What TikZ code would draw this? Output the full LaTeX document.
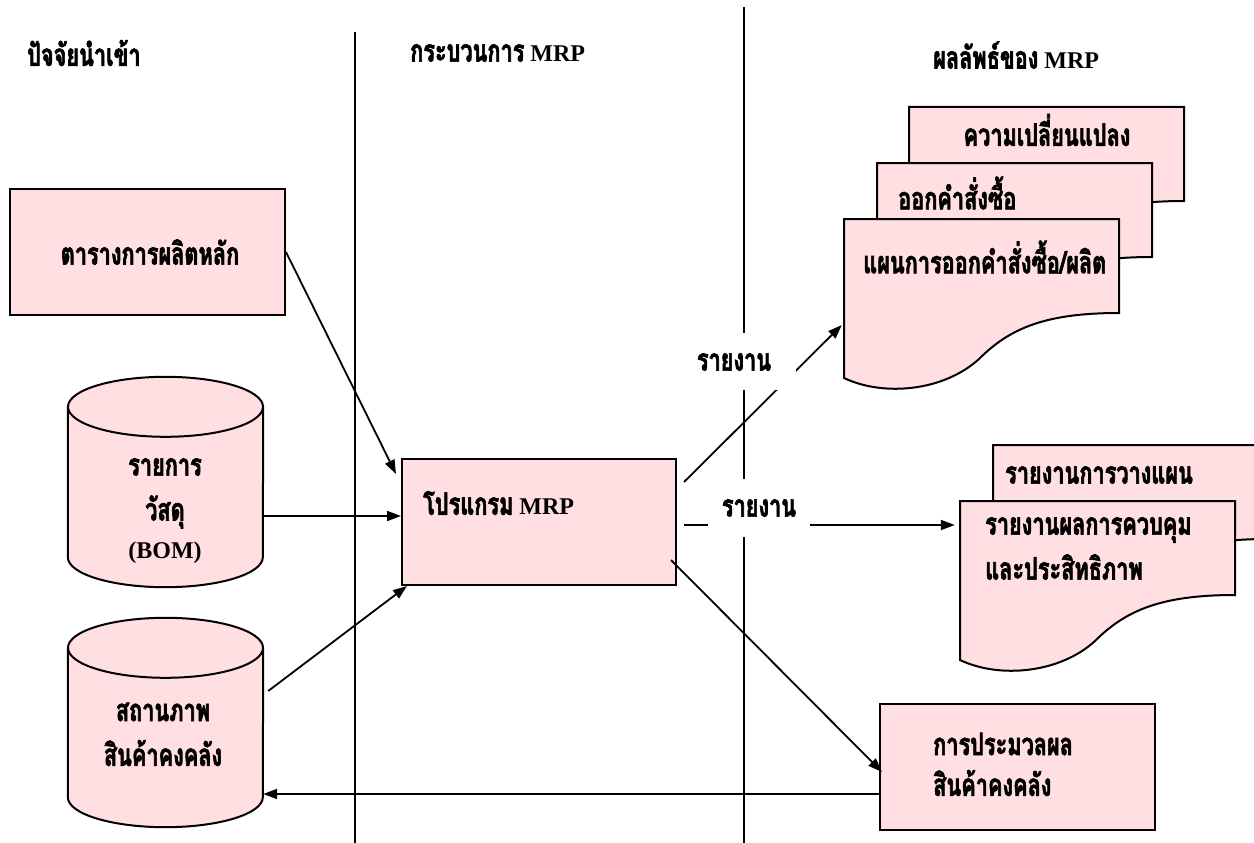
\documentclass[tikz,border=0pt]{standalone}
\usepackage{fontspec}
\setmainfont{Liberation Serif}
\newfontfamily\thaifont[Script=Thai,FakeStretch=0.7,FakeBold=2]{Loma}
\usetikzlibrary{arrows.meta,calc}
\definecolor{boxpink}{RGB}{255,223,226}
\newcommand{\thx}[1]{{\fontsize{31}{38}\thaifont #1}}

% document symbol (wavy lower edge), top-left corner at (#1,#2)
\newcommand{\docshape}[2]{%
  \filldraw[shapeline,shift={(#1,#2)}] (0,0) -- (275,0) -- (275,94)
    .. controls (200,94) and (165,110) .. (135,140)
    .. controls (100,172) and (40,178) .. (0,159) -- cycle;}

% database cylinder drawn over the frame of node #1
\newcommand{\cyl}[1]{%
  \fill[boxpink] ($(#1.north west)+(0,30)$) rectangle ($(#1.south east)+(0,-30)$);
  \fill[boxpink] ($(#1.south)+(0,-30)$) ellipse[x radius=97.5pt,y radius=30pt];
  \draw[line width=2pt] ($(#1.north west)+(0,30)$) -- ($(#1.south west)+(0,-30)$)
    arc[start angle=180,delta angle=180,x radius=97.5pt,y radius=30pt]
    -- ($(#1.north east)+(0,30)$);
  \filldraw[shapeline] ($(#1.north)+(0,30)$) ellipse[x radius=97.5pt,y radius=30pt];}

\tikzset{
  shapeline/.style={draw=black,line width=2pt,fill=boxpink},
  pbox/.style={shapeline,inner sep=0pt},
  frame/.style={inner sep=0pt,draw=none},
  arr/.style={-{Triangle[length=14pt,width=10pt]},line width=1.8pt},
  vline/.style={line width=2pt},
  lbl/.style={fill=white,inner sep=0pt},
  txt/.style={inner sep=0pt,anchor=west},
  ctxt/.style={inner sep=0pt}
}

\begin{document}
\begin{tikzpicture}[x=1pt,y=-1pt,font=\bfseries\fontsize{24}{30}\selectfont]
\useasboundingbox (0,0) rectangle (1254,843);
\clip (0,0) rectangle (1254,843);

% column separators
\draw[vline] (355,32) -- (355,843);
\draw[vline] (744,7) -- (744,843);

% column headings
\node[txt] (h1) at (27,53) {\thx{ปัจจัยนำเข้า}};
\node[txt] (h2) at (410,53) {\thx{กระบวนการ} MRP};
\node[txt] (h3) at (933,55) {\thx{ผลลัพธ์ของ} MRP};

% inputs
\node[pbox,minimum width=275,minimum height=126] (mps) at (147.5,252) {};
\node[ctxt] (mpst) at (150,252) {\thx{ตารางการผลิตหลัก}};

\node[frame,minimum width=195,minimum height=210] (bom) at (165.5,482) {};
\cyl{bom}
\node[ctxt] (bom1) at (165,467) {\thx{รายการ}};
\node[ctxt] (bom2) at (165,512) {\thx{วัสดุ}};
\node[ctxt] (bom3) at (165,553) {(BOM)};

\node[frame,minimum width=195,minimum height=209] (inv) at (165.5,722.5) {};
\cyl{inv}
\node[ctxt] (inv1) at (163,712) {\thx{สถานภาพ}};
\node[ctxt] (inv2) at (163,753) {\thx{สินค้าคงคลัง}};

% MRP program
\node[pbox,minimum width=274,minimum height=126] (mrp) at (539,522) {};
\node[txt] (mrpt) at (423,503) {\thx{โปรแกรม} MRP};

% inventory processing
\node[pbox,minimum width=275,minimum height=126] (proc) at (1017.5,767) {};
\node[txt] (proc1) at (933,744) {\thx{การประมวลผล}};
\node[txt] (proc2) at (933,783) {\thx{สินค้าคงคลัง}};

% order documents (back to front)
\docshape{909}{107}
\node[ctxt] (chg) at (1047,130) {\thx{ความเปลี่ยนแปลง}};
\docshape{877}{163}
\node[txt] (po) at (898,193) {\thx{ออกคำสั่งซื้อ}};
\docshape{844}{219}
\node[frame,minimum width=275,minimum height=159] (plan) at (981.5,298.5) {};
\node[txt] (plant) at (863,257) {\thx{แผนการออกคำสั่งซื้อ/ผลิต}};

% report documents (back to front)
\docshape{993}{445}
\node[txt] (rplan) at (1005,475) {\thx{รายงานการวางแผน}};
\docshape{960}{501}
\node[frame,minimum width=275,minimum height=159] (rep) at (1097.5,580.5) {};
\node[txt] (rep1) at (985,530) {\thx{รายงานผลการควบคุม}};
\node[txt] (rep2) at (985,567) {\thx{และประสิทธิภาพ}};

% connectors
\coordinate (bomout) at ($(bom.east)+(0,34)$);
\coordinate (invout) at ($(inv.east)+(5,-31.5)$);
\coordinate (mrpup) at ($(mrp.north east)+(7,24)$);
\coordinate (mrpright) at ($(mrp.east)+(0,3)$);
\coordinate (mrpdown) at ($(mrp.east)+(-6,38)$);
\coordinate (procout) at ($(proc.south west)+(0,-37)$);

\draw[arr] (mps.east) -- ($(mrp.north west)+(-5,16)$);
\draw[arr] (bomout) -- (bomout -| mrp.west);
\draw[arr] (invout) -- ($(mrp.south west)+(6,0)$);
\draw[arr] (mrpup) -- ($(plan.west)+(-2,26.5)$);
\draw[arr,shorten <=7pt,shorten >=5pt] (mrpright) -- (mrpright -| rep.west);
\draw[arr] (mrpdown) -- ($(proc.west)+(3,5)$);
\draw[arr] (procout) -- (procout -| inv.east);

% report labels on white patches
\node[lbl,minimum width=108,minimum height=57] (r1) at (742,361.5) {};
\node[ctxt] (r1t) at (734,362) {\thx{รายงาน}};
\node[lbl,minimum width=102,minimum height=58] (r2) at (759,508) {\thx{รายงาน}};
\end{tikzpicture}
\end{document}
